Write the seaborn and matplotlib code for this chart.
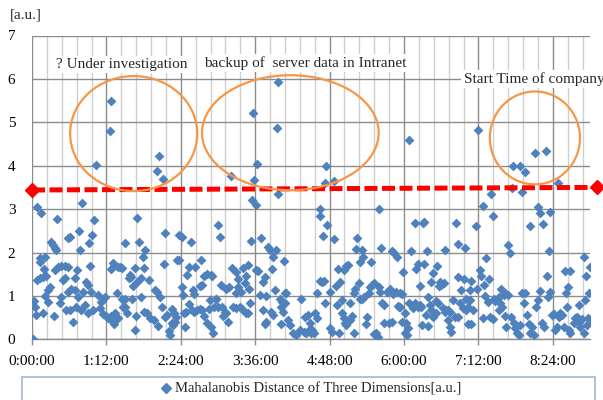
import matplotlib
matplotlib.use("Agg")
import matplotlib.pyplot as plt
import seaborn as sns
import pandas as pd
import numpy as np
from matplotlib.patches import Ellipse, Rectangle
from matplotlib.lines import Line2D

# ---------------- data (minutes since 0:00:00, distance in a.u.) ----------------
seg_0_90 = [(0.7,0.00),(4.8,3.05),(8.7,2.92),(24.5,2.78),(48.8,3.15),(59.8,2.75),(45.9,2.49),(58.5,2.40),
            (37.1,2.36),(34.9,2.33),(55.5,2.23),(18.7,2.24),(20.3,2.17),(21.9,2.10),(23.5,2.05),(46.8,2.06),
            (7.4,1.87),(7.8,1.79),(12.3,1.90),(11.6,1.61),(22.6,1.60),(25.2,1.67),(28.4,1.68),(31.6,1.68),
            (34.9,1.66),(43.3,1.60),(56.5,1.69),(78.5,1.75),(76.2,1.61),(83.3,1.66),(85.6,1.67),(5.2,1.37),
            (7.4,1.41),(10.7,1.44),(13.9,1.46),(30.0,1.37),(32.3,1.41),(41.3,1.41),(52.6,1.33),(54.3,1.25),
            (17.1,1.21),(15.5,1.14),(38.1,1.17),(41.3,1.14),(34.9,1.10),(49.4,1.10),(12.3,1.00),(28.4,0.98),
            (44.6,0.98),(57.5,1.10),(64.0,1.02),(70.4,0.98),(68.8,0.94),(67.2,0.87),(82.4,1.07),(1.6,0.89),
            (2.6,0.74),(4.2,0.56),(10.7,0.60),(15.5,0.87),(26.8,0.83),(33.2,0.68),(36.5,0.68),(21.0,0.54),
            (39.7,0.41),(42.9,0.74),(47.2,0.68),(51.6,0.79),(54.3,0.61),(59.1,0.68),(66.2,0.71),(68.8,0.58),
            (71.5,0.54),(73.8,0.50),(76.2,0.54),(78.8,0.41),(79.8,0.35),(80.7,0.61),(83.3,0.48),(88.2,0.75)]

seg_90_180 = [(101.7,2.79),(128.6,2.44),(142.1,2.40),(144.7,2.36),(90.4,2.23),(104.0,2.25),(154.1,2.25),
              (109.8,2.06),(107.3,1.89),(108.2,1.65),(99.5,1.65),(127.6,1.73),(140.5,1.83),(142.7,1.83),
              (163.8,1.83),(151.8,1.66),(158.2,1.67),(87.2,1.65),(95.3,1.48),(93.6,1.41),(96.2,1.44),
              (101.7,1.33),(105.0,1.41),(97.9,1.23),(113.1,1.37),(150.2,1.48),(166.4,1.46),(169.6,1.50),
              (172.9,1.48),(174.6,1.46),(164.7,1.25),(162.1,1.23),(144.7,1.20),(146.0,1.02),(119.5,1.14),
              (121.1,1.10),(124.3,0.98),(156.0,1.14),(156.7,1.04),(87.2,0.94),(90.4,0.94),(96.9,0.94),
              (105.9,0.97),(171.8,0.91),(177.6,0.94),(90.4,0.75),(92.0,0.60),(100.8,0.54),(108.2,0.64),
              (111.4,0.61),(114.6,0.48),(117.9,0.44),(122.1,0.31),(126.0,0.74),(128.6,0.52),(130.8,0.56),
              (135.7,0.69),(137.3,0.60),(138.9,0.52),(135.0,0.37),(136.3,0.33),(138.3,0.41),(132.5,0.18),
              (134.0,0.10),(147.0,0.60),(148.6,0.64),(151.8,0.81),(154.4,0.68),(156.7,0.64),(160.0,0.68),
              (162.2,0.69),(164.7,0.68),(166.4,0.54),(147.6,0.29),(169.6,0.37),(173.7,0.29),(175.1,0.15),
              (171.2,0.69),(176.0,0.74),(99.5,0.21)]

seg_180_270 = [(217.0,3.09),(179.9,2.63),(182.2,2.36),(212.2,2.27),(221.9,2.33),(228.4,2.13),(230.0,2.06),
               (235.8,2.06),(233.2,1.90),(243.8,1.80),(193.8,1.64),(197.0,1.56),(204.2,1.65),(209.1,1.71),
               (216.4,1.60),(218.6,1.58),(232.6,1.61),(199.3,1.38),(207.4,1.46),(225.1,1.43),(223.5,1.33),
               (183.1,1.25),(188.0,1.17),(190.6,1.20),(206.6,1.29),(199.3,1.21),(197.7,1.06),(202.5,1.10),
               (210.0,1.15),(220.3,1.02),(226.7,1.00),(234.8,1.14),(244.5,1.06),(178.3,0.94),(179.9,0.75),
               (184.1,0.75),(186.3,0.64),(185.3,0.54),(188.0,0.60),(189.6,0.41),(194.5,0.75),(197.0,0.71),
               (201.6,0.75),(204.2,0.68),(206.8,0.61),(209.1,0.60),(210.6,0.83),(223.5,0.68),(231.6,0.64),
               (233.2,0.56),(226.7,0.41),(225.1,0.35),(240.3,0.94),(242.2,0.87),(244.5,0.83),(246.1,1.06),
               (241.3,0.75),(260.0,0.92),(242.9,0.64),(247.7,0.44),(249.3,0.33),(241.3,0.35),(252.6,0.14),
               (255.8,0.10),(259.0,0.21),(262.9,0.17),(265.5,0.14),(268.1,0.21),(270.3,0.14),(263.8,0.52),
               (267.1,0.56)]

seg_270_360 = [(335.6,3.00),(279.1,3.00),(278.4,2.84),(285.5,2.63),(281.3,2.39),(291.9,2.30),(314.6,2.33),
               (314.0,2.08),(319.5,2.06),(320.4,1.89),(317.8,1.79),(328.2,1.77),(337.9,2.11),(348.5,2.03),
               (350.1,1.99),(353.4,1.89),(359.2,1.56),(295.8,1.61),(301.6,1.60),(304.3,1.69),(305.5,1.71),
               (278.4,1.34),(280.7,1.33),(283.0,1.35),(294.6,1.23),(298.4,1.33),(288.8,1.10),(275.9,1.07),
               (313.0,1.17),(316.2,1.30),(311.3,1.06),(319.5,0.94),(321.7,0.98),(326.9,1.21),(329.2,1.25),
               (330.7,1.29),(325.9,1.06),(335.6,1.20),(337.2,1.10),(343.7,1.10),(346.9,1.17),(349.5,1.04),
               (352.7,1.10),(356.6,1.07),(358.2,1.04),(317.2,0.92),(283.2,0.84),(295.3,0.79),(300.1,0.91),
               (308.1,0.84),(338.9,0.83),(341.1,0.79),(354.0,0.77),(356.6,0.75),(274.2,0.60),(275.9,0.48),
               (269.4,0.37),(271.0,0.21),(272.6,0.14),(300.1,0.60),(301.6,0.48),(303.3,0.37),(304.9,0.41),
               (307.5,0.44),(309.8,0.54),(304.3,0.33),(288.8,0.25),(290.4,0.17),(296.8,0.15),(311.3,0.15),
               (324.3,0.52),(323.6,0.35),(330.7,0.12),(333.3,0.15),(334.6,0.06),(340.4,0.37),(345.3,0.38),
               (348.5,0.41),(354.9,0.75),(358.2,0.41),(361.4,0.14)]

seg_360_450 = [(436.3,3.08),(446.0,2.85),(370.2,2.67),(378.3,2.69),(379.8,2.71),(410.6,2.67),(429.3,2.60),
               (367.0,2.04),(382.5,2.03),(399.9,2.06),(412.1,2.20),(418.6,2.10),(373.4,1.73),(371.8,1.61),
               (379.8,1.73),(391.8,1.69),(438.9,1.87),(387.9,1.53),(385.7,1.33),(394.4,1.33),(396.0,1.25),
               (398.6,1.29),(393.4,1.23),(375.0,1.23),(412.1,1.43),(417.9,1.38),(424.4,1.34),(433.1,1.60),
               (434.1,1.46),(441.9,1.38),(437.3,1.25),(430.9,1.17),(415.4,1.14),(423.4,1.14),(383.0,0.98),
               (391.2,0.89),(392.8,0.83),(397.6,0.71),(402.5,0.68),(407.3,0.91),(413.8,0.83),(420.2,0.94),
               (423.4,0.91),(426.7,0.68),(438.6,1.00),(441.2,0.87),(447.0,0.94),(448.4,0.89),(365.3,0.83),
               (370.2,0.84),(375.0,0.79),(368.5,0.71),(373.4,0.74),(376.7,0.74),(384.7,0.79),(386.3,0.68),
               (399.2,0.64),(400.9,0.68),(404.1,0.64),(409.0,0.52),(412.1,0.52),(417.0,0.71),(420.2,0.68),
               (421.8,0.75),(360.5,0.60),(362.1,0.37),(363.7,0.25),(363.1,0.10),(381.5,0.56),(387.9,0.52),
               (391.2,0.60),(377.2,0.33),(383.7,0.31),(402.5,0.44),(404.1,0.29),(405.7,0.17),(421.8,0.35),
               (425.1,0.35),(436.3,0.50),(442.8,0.52),(446.0,0.46)]

seg_450_540 = [(489.3,3.04),(491.9,2.90),(500.9,2.94),(494.2,2.66),(482.3,2.60),(460.6,2.17),(462.2,2.00),
               (500.0,2.04),(533.9,1.89),(540.4,1.66),(516.2,1.57),(521.0,1.58),(536.1,1.47),(498.3,1.46),
               (454.2,1.17),(458.0,1.07),(456.4,1.02),(451.6,0.98),(453.2,0.83),(454.8,0.75),(451.6,0.68),
               (460.6,1.02),(474.1,1.06),(477.4,1.06),(475.7,0.84),(491.9,1.12),(489.6,0.91),(501.6,1.10),
               (499.3,0.97),(487.7,0.75),(518.7,1.20),(517.1,1.06),(538.7,1.06),(535.5,0.91),(529.1,0.79),
               (517.7,0.75),(458.0,0.54),(463.8,0.52),(458.6,0.29),(466.1,0.37),(467.7,0.25),(469.3,0.14),
               (470.9,0.10),(472.6,0.33),(479.0,0.56),(481.3,0.35),(483.8,0.29),(482.3,0.14),(485.5,0.10),
               (493.5,0.37),(495.2,0.29),(503.2,0.56),(504.8,0.58),(509.7,0.52),(511.3,0.60),(512.9,0.56),
               (506.5,0.21),(508.1,0.29),(514.5,0.29),(519.4,0.21),(521.0,0.14),(524.2,0.37),(525.9,0.48),
               (527.4,0.52),(529.1,0.41),(530.7,0.29),(532.3,0.46),(533.9,0.14),(537.1,0.33),(538.1,0.48),
               (540.4,0.44)]

above_threshold = [(61.7,4.02),(76.4,5.50),(75.8,4.81),(122.7,4.22),(120.8,3.88),(126.6,3.69),(238.1,5.92),
                   (213.8,5.22),(237.1,4.86),(217.7,4.03),(192.8,3.77),(215.1,3.67),(284.6,3.99),(283.2,3.59),
                   (292.6,3.65),(238.5,3.34),(212.9,3.22),(365.3,4.59),(431.9,4.82),(465.8,4.00),(471.9,4.00),
                   (477.0,3.85),(487.1,4.29),(497.0,4.34),(509.3,3.61),(443.8,3.34),(464.2,3.49),(474.1,3.40)]

threshold_minutes = [0, 547]
threshold_values = [3.44, 3.50]

x_tick_minutes = [0, 72, 144, 216, 288, 360, 432, 504]
x_tick_labels = ["0:00:00", "1:12:00", "2:24:00", "3:36:00", "4:48:00", "6:00:00", "7:12:00", "8:24:00"]
y_ticks = [0, 1, 2, 3, 4, 5, 6, 7]

notes = ["? Under investigation", "backup of  server data in Intranet", "Start Time of company"]
legend_label = "Mahalanobis Distance of Three Dimensions[a.u.]"
unit_label = "[a.u.]"

# ---------------- build frame ----------------
all_pts = seg_0_90 + seg_90_180 + seg_180_270 + seg_270_360 + seg_360_450 + seg_450_540 + above_threshold
df = pd.DataFrame(all_pts, columns=["minute", "distance"])

sns.set_theme(style="white")
plt.rcParams["font.family"] = ["Liberation Serif", "DejaVu Serif"]

W, H = 603, 400
fig = plt.figure(figsize=(W / 100, H / 100), dpi=100)
x0, x1, ytop, ybot = 32, 590, 35.5, 339.3
ax = fig.add_axes([x0 / W, 1 - ybot / H, (x1 - x0) / W, (ybot - ytop) / H])

blue = "#4F81BD"
orange = "#F79646"

sns.scatterplot(data=df, x="minute", y="distance", marker="D", s=25, color=blue,
                edgecolor=blue, linewidth=0, ax=ax, legend=False, zorder=3)

ax.plot(threshold_minutes, threshold_values, color="#FF0000", lw=3.6, dashes=(2.6, 0.9),
        dash_capstyle="butt", marker="D", ms=7, clip_on=False, zorder=4)

ax.set_xlim(0, 540)
ax.set_ylim(0, 7)
ax.set_xticks(x_tick_minutes)
ax.set_xticklabels(x_tick_labels)
ax.set_xticks(np.arange(0, 540.1, 14.4), minor=True)
ax.set_yticks(y_ticks)
ax.set_xlabel("")
ax.set_ylabel("")

ax.grid(which="minor", axis="x", color="#CFCFCF", lw=1.0, zorder=0)
ax.grid(which="major", axis="x", color="#8C8C8C", lw=1.0, zorder=0)
ax.grid(which="major", axis="y", color="#8C8C8C", lw=1.0, zorder=0)
ax.set_axisbelow(True)

for s in ["top", "right", "left"]:
    ax.spines[s].set_visible(False)
ax.spines["bottom"].set_color("#8C8C8C")
ax.spines["bottom"].set_linewidth(1.0)

ax.tick_params(axis="x", which="major", length=4, width=1, color="#8C8C8C", pad=7,
               labelsize=11, labelcolor="#000000", direction="out", bottom=True)
ax.tick_params(axis="x", which="minor", length=0)
ax.tick_params(axis="y", length=0, pad=12, labelsize=11, labelcolor="#000000")

# ellipses
ellipses = [((98.4, 4.74), 123, 2.65), ((250, 4.76), 171, 2.65), ((486.7, 4.64), 87.2, 2.14)]
for (c, w, h) in ellipses:
    ax.add_patch(Ellipse(c, w, h, fill=False, edgecolor=orange, lw=1.6, zorder=5, clip_on=False))

box = dict(facecolor="white", edgecolor="none", pad=1.5)
ax.text(23.3, 6.34, notes[0], fontsize=11, va="center", ha="left", bbox=box, zorder=6)
ax.text(166.7, 6.36, notes[1], fontsize=11, va="center", ha="left", bbox=box, zorder=6)
ax.text(417.6, 5.99, notes[2], fontsize=11, va="center", ha="left", bbox=box, zorder=6, clip_on=False)

fig.text(10 / W, 1 - 15 / H, unit_label, fontsize=11, va="center", ha="left")

# legend box
fig.patches.append(Rectangle((22 / W, -0.02), (595 - 22) / W, 0.02 + 1 - 376.5 / H,
                             transform=fig.transFigure, fill=False, edgecolor="#9FB6D3", lw=1.2))
h = Line2D([], [], marker="D", color=blue, ls="none", ms=5)
fig.legend(handles=[h], labels=[legend_label], loc="center", bbox_to_anchor=(311 / W, 1 - 389 / H),
           frameon=False, fontsize=10.5, handletextpad=0.2, handlelength=0.8, borderpad=0)

fig.savefig("out.png", dpi=100)
